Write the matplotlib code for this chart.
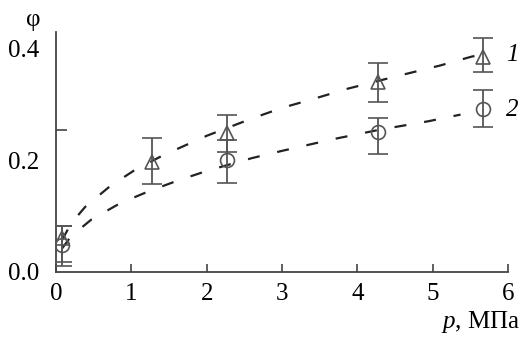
import matplotlib
matplotlib.use("Agg")
import matplotlib.pyplot as plt

# measured points
p1 = [0.08, 1.27, 2.27, 4.27, 5.67]
phi1 = [0.061, 0.197, 0.249, 0.341, 0.386]
err1_hi = [0.083, 0.240, 0.281, 0.375, 0.420]
err1_lo = [0.018, 0.158, 0.215, 0.305, 0.359]

p2 = [0.08, 2.27, 4.27, 5.67]
phi2 = [0.048, 0.200, 0.251, 0.292]
err2_hi = [0.083, 0.237, 0.276, 0.326]
err2_lo = [0.010, 0.160, 0.212, 0.260]

# dashed fit curves
fit1_x = [0.08, 0.2, 0.39, 0.72, 1.05, 1.42, 2.0, 2.6, 3.0, 3.44, 3.86, 4.5, 5.1, 5.52, 5.67]
fit1_y = [0.057, 0.087, 0.117, 0.154, 0.183, 0.209, 0.244, 0.275, 0.294, 0.311, 0.328, 0.350, 0.370, 0.386, 0.390]
fit2_x = [0.08, 0.2, 0.47, 0.85, 1.22, 1.6, 2.0, 2.6, 3.0, 3.68, 4.3, 4.94, 5.37]
fit2_y = [0.042, 0.064, 0.094, 0.123, 0.144, 0.163, 0.181, 0.204, 0.217, 0.238, 0.255, 0.270, 0.282]

xticks = [0, 1, 2, 3, 4, 5, 6]
ytick_labels = [0.0, 0.2, 0.4]
ytick_marks = [0.255, 0.4]

plt.rcParams['font.family'] = ['Liberation Serif', 'DejaVu Serif']
plt.rcParams['mathtext.fontset'] = 'custom'
plt.rcParams['mathtext.it'] = 'Liberation Serif:italic'
plt.rcParams['mathtext.rm'] = 'Liberation Serif'

FS = 18

fig = plt.figure(figsize=(5.21, 3.37), dpi=100)
ax = fig.add_axes([0.1075, 0.193, 0.8675, 0.712])

gray = '#555555'
ax.plot(fit1_x, fit1_y, color='#222222', lw=1.6, dashes=(5.4, 8.1), zorder=2)
ax.plot(fit2_x, fit2_y, color='#222222', lw=1.6, dashes=(5.4, 8.1), zorder=2)

def eb(x, y, lo, hi, marker):
    yerr = [[yy - l for yy, l in zip(y, lo)], [h - yy for yy, h in zip(y, hi)]]
    ax.errorbar(x, y, yerr=yerr, fmt=marker, mfc='none', mec=gray, ms=10, mew=1.2,
                ecolor=gray, elinewidth=1.3, capsize=7.5, capthick=1.3, zorder=3)

eb(p1, phi1, err1_lo, err1_hi, '^')
eb(p2, phi2, err2_lo, err2_hi, 'o')

ax.set_xlim(0, 6)
ax.set_ylim(0, 0.43)
for s in ['top', 'right']:
    ax.spines[s].set_visible(False)
for s in ['left', 'bottom']:
    ax.spines[s].set_color('#444444')
    ax.spines[s].set_linewidth(1.3)

ax.set_xticks(xticks)
ax.set_xticklabels([str(v) for v in xticks])
ax.set_yticks(ytick_labels)
ax.set_yticklabels([f"{v:.1f}" for v in ytick_labels])
ax.tick_params(axis='y', length=0, labelsize=FS, pad=12)
ax.tick_params(axis='x', direction='in', length=6, width=1.2, color='#444444', labelsize=FS, pad=8)
ax.set_yticks(ytick_marks, minor=True)
ax.tick_params(axis='y', which='minor', direction='in', length=8, width=1.2, color='#444444')

fig.text(33 / 521, 1 - 20 / 337, 'φ', fontsize=FS, ha='center', va='center')
fig.text(520 / 521, 1 - 322 / 337, '$p$, МПа', fontsize=FS, ha='right', va='center')
fig.text(512 / 521, 1 - 55 / 337, '1', fontsize=FS, style='italic', ha='center', va='center')
fig.text(512 / 521, 1 - 110 / 337, '2', fontsize=FS, style='italic', ha='center', va='center')

fig.savefig('out.png', dpi=100)
